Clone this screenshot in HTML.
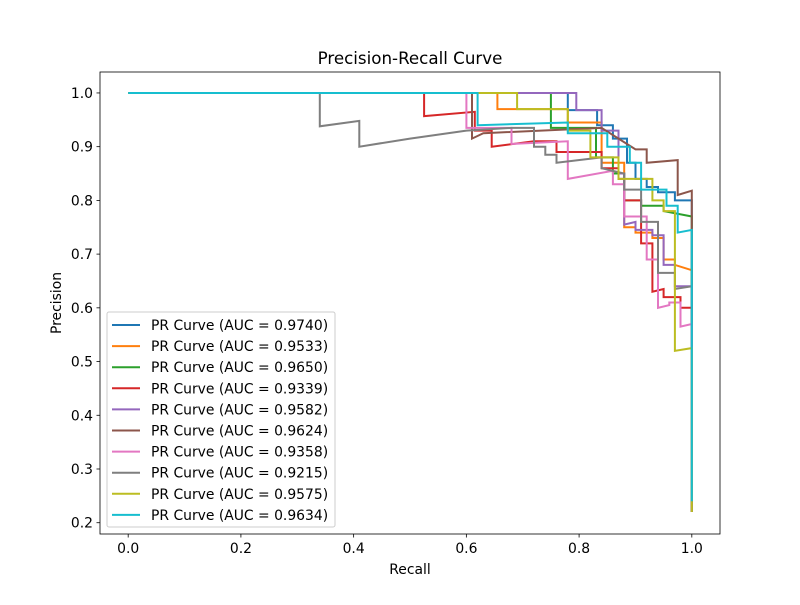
<!DOCTYPE html>
<html><head><meta charset="utf-8"><style>body{margin:0;background:#fff}svg text{font-family:"DejaVu Sans","Liberation Sans",sans-serif}</style></head>
<body>
<svg id="c" width="800" height="600"></svg>
<script>
const labels=["PR Curve (AUC = 0.9740)","PR Curve (AUC = 0.9533)","PR Curve (AUC = 0.9650)","PR Curve (AUC = 0.9339)","PR Curve (AUC = 0.9582)","PR Curve (AUC = 0.9624)","PR Curve (AUC = 0.9358)","PR Curve (AUC = 0.9215)","PR Curve (AUC = 0.9575)","PR Curve (AUC = 0.9634)"];
const colors=["#1f77b4","#ff7f0e","#2ca02c","#d62728","#9467bd","#8c564b","#e377c2","#7f7f7f","#bcbd22","#17becf"];
const s0=[[0,1],[0.78,1],[0.78,0.968],[0.832,0.968],[0.832,0.94],[0.86,0.94],[0.86,0.915],[0.885,0.915],[0.885,0.87],[0.9,0.87],[0.9,0.84],[0.92,0.84],[0.92,0.825],[0.94,0.825],[0.94,0.815],[0.97,0.815],[0.97,0.8],[1,0.8],[1,0.22]];
const s1=[[0,1],[0.655,1],[0.655,0.97],[0.78,0.97],[0.78,0.945],[0.84,0.945],[0.84,0.87],[0.88,0.87],[0.88,0.75],[0.9,0.75],[0.9,0.74],[0.93,0.74],[0.93,0.73],[0.95,0.73],[0.95,0.69],[0.97,0.69],[0.97,0.68],[1,0.67],[1,0.22]];
const s2=[[0,1],[0.75,1],[0.75,0.935],[0.83,0.935],[0.83,0.88],[0.86,0.88],[0.86,0.85],[0.88,0.85],[0.88,0.8],[0.91,0.8],[0.91,0.79],[0.95,0.79],[0.95,0.78],[1,0.77],[1,0.22]];
const s3=[[0,1],[0.525,1],[0.525,0.957],[0.615,0.965],[0.615,0.93],[0.645,0.93],[0.645,0.9],[0.72,0.91],[0.76,0.91],[0.76,0.89],[0.84,0.89],[0.84,0.86],[0.87,0.86],[0.87,0.84],[0.88,0.84],[0.88,0.8],[0.91,0.8],[0.91,0.72],[0.93,0.72],[0.93,0.63],[0.95,0.635],[0.95,0.62],[0.98,0.62],[0.98,0.6],[1,0.6],[1,0.22]];
const s4=[[0,1],[0.795,1],[0.795,0.968],[0.84,0.968],[0.84,0.93],[0.87,0.93],[0.87,0.85],[0.88,0.85],[0.88,0.755],[0.9,0.76],[0.9,0.745],[0.93,0.745],[0.93,0.735],[0.95,0.735],[0.95,0.68],[0.97,0.68],[0.97,0.64],[1,0.64],[1,0.22]];
const s5=[[0,1],[0.61,1],[0.61,0.915],[0.63,0.925],[0.84,0.935],[0.9,0.895],[0.92,0.895],[0.92,0.87],[0.975,0.875],[0.975,0.81],[1,0.818],[1,0.22]];
const s6=[[0,1],[0.6,1],[0.6,0.935],[0.68,0.935],[0.68,0.905],[0.78,0.91],[0.78,0.84],[0.86,0.855],[0.86,0.83],[0.88,0.83],[0.88,0.77],[0.92,0.77],[0.92,0.69],[0.94,0.69],[0.94,0.6],[0.96,0.605],[0.96,0.61],[0.98,0.61],[0.98,0.565],[1,0.57],[1,0.28]];
const s7=[[0,1],[0.34,1],[0.34,0.938],[0.41,0.948],[0.41,0.9],[0.5,0.915],[0.6,0.93],[0.68,0.935],[0.72,0.935],[0.72,0.9],[0.74,0.9],[0.74,0.885],[0.76,0.885],[0.76,0.87],[0.84,0.88],[0.84,0.86],[0.88,0.85],[0.88,0.82],[0.91,0.82],[0.91,0.76],[0.94,0.76],[0.94,0.665],[0.97,0.665],[0.97,0.635],[1,0.64],[1,0.22]];
const s8=[[0,1],[0.69,1],[0.69,0.97],[0.78,0.97],[0.78,0.93],[0.82,0.93],[0.82,0.88],[0.87,0.88],[0.87,0.84],[0.93,0.84],[0.93,0.8],[0.95,0.8],[0.95,0.78],[0.97,0.78],[0.97,0.52],[1,0.525],[1,0.22]];
const s9=[[0,1],[0.62,1],[0.62,0.94],[0.78,0.945],[0.78,0.925],[0.85,0.925],[0.85,0.9],[0.89,0.9],[0.89,0.87],[0.91,0.87],[0.91,0.82],[0.955,0.82],[0.955,0.79],[0.975,0.79],[0.975,0.74],[1,0.745],[1,0.24]];
const series=[s0,s1,s2,s3,s4,s5,s6,s7,s8,s9];
const xTicks=[0,0.2,0.4,0.6,0.8,1.0];
const yTicks=[0.2,0.3,0.4,0.5,0.6,0.7,0.8,0.9,1.0];
const L=100,R=720,T=72,B=534,x0=-0.05,x1=1.05,y0=0.179,y1=1.039;
const X=v=>L+(v-x0)/(x1-x0)*(R-L), Y=v=>B-(v-y0)/(y1-y0)*(B-T);
const svg=document.getElementById('c');const NS="http://www.w3.org/2000/svg";
function mk(t,a,p){const e=document.createElementNS(NS,t);for(const k in a)e.setAttribute(k,a[k]);(p||svg).appendChild(e);return e;}
series.forEach((s,i)=>{const e=mk('polyline',{points:s.map(p=>X(p[0]).toFixed(1)+','+Y(p[1]).toFixed(1)).join(' '),fill:'none',stroke:colors[i],'stroke-width':2});

});
const fr=mk('rect',{x:L,y:T,width:R-L,height:B-T,fill:'none',stroke:'#000','stroke-width':0.8});


xTicks.forEach(v=>{mk('line',{x1:X(v),x2:X(v),y1:B,y2:B+3.5,stroke:'#000','stroke-width':0.8});const t=mk('text',{x:X(v),y:B+19,'font-size':13.9,'text-anchor':'middle'});t.textContent=v.toFixed(1);

});
yTicks.forEach(v=>{mk('line',{x1:L-3.5,x2:L,y1:Y(v),y2:Y(v),stroke:'#000','stroke-width':0.8});const t=mk('text',{x:L-7,y:Y(v)+5,'font-size':13.9,'text-anchor':'end'});t.textContent=v.toFixed(1);

});
let t=mk('text',{x:410,y:64,'font-size':16.7,'text-anchor':'middle'});t.textContent='Precision-Recall Curve';


t=mk('text',{x:410,y:574,'font-size':13.9,'text-anchor':'middle'});t.textContent='Recall';


t=mk('text',{x:0,y:0,'font-size':13.9,'text-anchor':'middle',transform:'translate(61,303) rotate(-90)'});t.textContent='Precision';


const lg=mk('g',{});


mk('rect',{x:107,y:312,width:228,height:215,rx:2,fill:'#fff','fill-opacity':0.8,stroke:'#ccc'},lg);
labels.forEach((l,i)=>{const y=325+i*21.1;mk('line',{x1:112,x2:140,y1:y,y2:y,stroke:colors[i],'stroke-width':2},lg);const tt=mk('text',{x:151,y:y+5,'font-size':13.9},lg);tt.textContent=l;

});
</script>
</body></html>
